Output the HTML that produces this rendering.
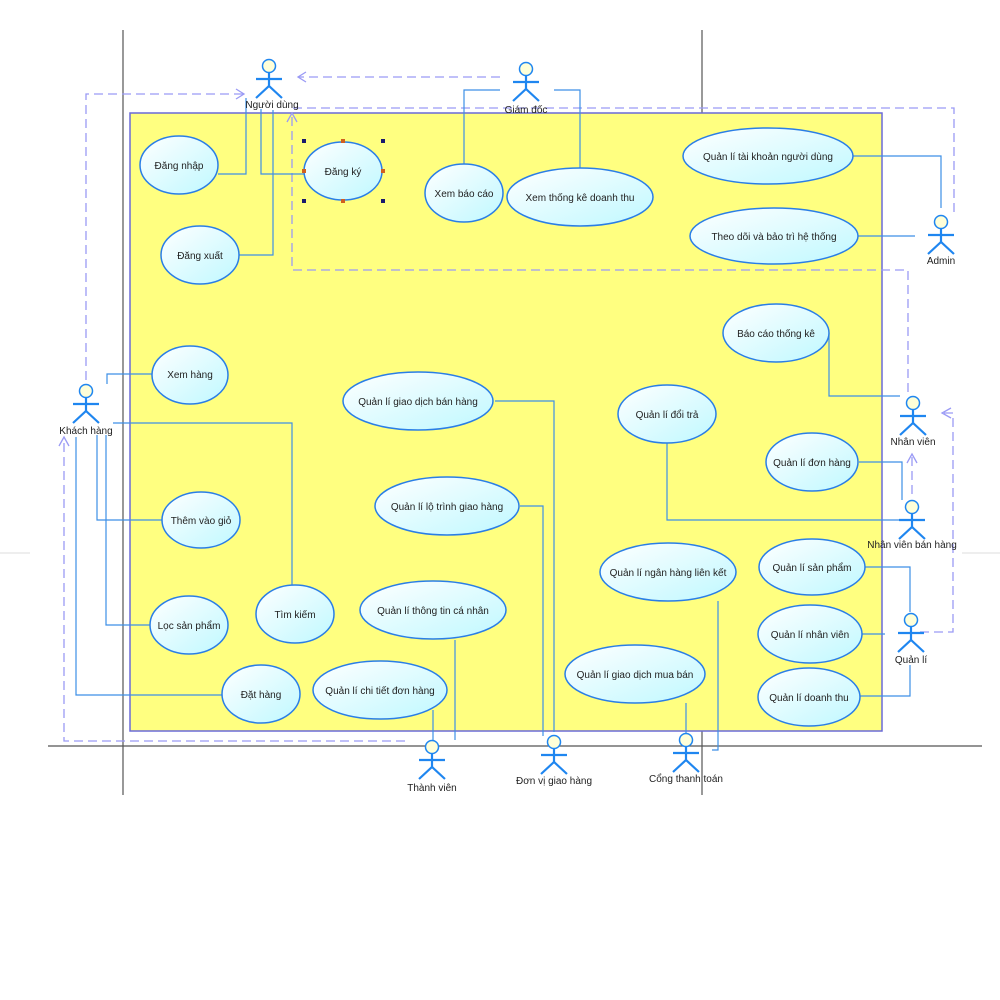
<!DOCTYPE html>
<html><head><meta charset="utf-8"><style>
html,body{margin:0;padding:0;background:#fff;}
svg{display:block;font-family:"Liberation Sans","DejaVu Sans",sans-serif;}
</style></head><body>
<svg width="1000" height="1000" viewBox="0 0 1000 1000" xmlns="http://www.w3.org/2000/svg">
<defs>
<linearGradient id="g" x1="0" y1="0" x2="1" y2="1">
<stop offset="0" stop-color="#ffffff"/><stop offset="1" stop-color="#bff8ff"/>
</linearGradient>
</defs>
<!-- gray lines -->
<g stroke="#555" stroke-width="1.2">
<line x1="123" y1="30" x2="123" y2="795"/>
<line x1="702" y1="30" x2="702" y2="113"/>
<line x1="702" y1="731" x2="702" y2="795"/>
<line x1="48" y1="746" x2="982" y2="746"/>
</g>
<line x1="0" y1="553" x2="30" y2="553" stroke="#ddd"/>
<line x1="962" y1="553" x2="1000" y2="553" stroke="#ddd"/>
<!-- boundary -->
<rect x="130" y="113" width="752" height="618" fill="#ffff80" stroke="#6a6ad8" stroke-width="1.5"/>

<!-- dashed generalizations -->
<g stroke="#9a9af5" stroke-width="1.3" fill="none" stroke-dasharray="9,5">
<polyline points="86,380 86,94 244,94"/>
<polyline points="405,741 64,741 64,438"/>
<polyline points="500,77 298,77"/>
<polyline points="954,212 954,108 292,108"/>
<polyline points="908,392 908,270 292,270 292,114"/>
<polyline points="912,494 912,455"/>
<polyline points="920,632 953,632 953,413 943,413"/>
</g>
<g stroke="#9a9af5" stroke-width="1.3" fill="none">
<polyline points="236,89 244,94 236,99"/>
<polyline points="59,446 64,437 69,446"/>
<polyline points="306,72 298,77 306,82"/>
<polyline points="287,122 292,113 297,122"/>
<polyline points="907,463 912,454 917,463"/>
<polyline points="951,408 942,413 951,418"/>
</g>

<!-- solid associations -->
<g stroke="#3d8fe6" stroke-width="1.2" fill="none">
<polyline points="246,98 246,174 218,174"/>
<polyline points="261,109 261,174 304,174"/>
<polyline points="273,110 273,255 239,255"/>
<polyline points="500,90 464,90 464,165"/>
<polyline points="554,90 580,90 580,168"/>
<polyline points="853,156 941,156 941,208"/>
<polyline points="858,236 915,236"/>
<polyline points="829,333 829,396 900,396"/>
<polyline points="107,384 107,374 152,374"/>
<polyline points="113,423 292,423 292,586"/>
<polyline points="97,435 97,520 162,520"/>
<polyline points="106,435 106,625 150,625"/>
<polyline points="76,437 76,695 222,695"/>
<polyline points="495,401 554,401 554,732"/>
<polyline points="520,506 543,506 543,736"/>
<polyline points="455,640 455,740"/>
<polyline points="433,710 433,740"/>
<polyline points="667,443 667,520 900,520"/>
<polyline points="859,462 902,462 902,500"/>
<polyline points="718,601 718,750 712,750"/>
<polyline points="686,703 686,733"/>
<polyline points="863,567 910,567 910,612"/>
<polyline points="862,634 885,634"/>
<polyline points="860,696 910,696 910,665"/>
</g>

<!-- use cases -->
<g stroke="#2a7ee6" stroke-width="1.5" fill="url(#g)">
<ellipse cx="179" cy="165" rx="39" ry="29"/>
<ellipse cx="343" cy="171" rx="39" ry="29"/>
<ellipse cx="200" cy="255" rx="39" ry="29"/>
<ellipse cx="464" cy="193" rx="39" ry="29"/>
<ellipse cx="580" cy="197" rx="73" ry="29"/>
<ellipse cx="768" cy="156" rx="85" ry="28"/>
<ellipse cx="774" cy="236" rx="84" ry="28"/>
<ellipse cx="776" cy="333" rx="53" ry="29"/>
<ellipse cx="190" cy="375" rx="38" ry="29"/>
<ellipse cx="418" cy="401" rx="75" ry="29"/>
<ellipse cx="667" cy="414" rx="49" ry="29"/>
<ellipse cx="812" cy="462" rx="46" ry="29"/>
<ellipse cx="447" cy="506" rx="72" ry="29"/>
<ellipse cx="201" cy="520" rx="39" ry="28"/>
<ellipse cx="668" cy="572" rx="68" ry="29"/>
<ellipse cx="812" cy="567" rx="53" ry="28"/>
<ellipse cx="189" cy="625" rx="39" ry="29"/>
<ellipse cx="295" cy="614" rx="39" ry="29"/>
<ellipse cx="433" cy="610" rx="73" ry="29"/>
<ellipse cx="810" cy="634" rx="52" ry="29"/>
<ellipse cx="635" cy="674" rx="70" ry="29"/>
<ellipse cx="380" cy="690" rx="67" ry="29"/>
<ellipse cx="261" cy="694" rx="39" ry="29"/>
<ellipse cx="809" cy="697" rx="51" ry="29"/>
</g>
<g font-size="10" fill="#222" text-anchor="middle">
<text x="179" y="169">Đăng nhập</text>
<text x="343" y="175">Đăng ký</text>
<text x="200" y="259">Đăng xuất</text>
<text x="464" y="197">Xem báo cáo</text>
<text x="580" y="201">Xem thống kê doanh thu</text>
<text x="768" y="160">Quản lí tài khoản người dùng</text>
<text x="774" y="240">Theo dõi và bảo trì hệ thống</text>
<text x="776" y="337">Báo cáo thống kê</text>
<text x="190" y="378">Xem hàng</text>
<text x="418" y="405">Quản lí giao dịch bán hàng</text>
<text x="667" y="418">Quản lí đổi trả</text>
<text x="812" y="466">Quản lí đơn hàng</text>
<text x="447" y="510">Quản lí lộ trình giao hàng</text>
<text x="201" y="524">Thêm vào giỏ</text>
<text x="668" y="576">Quản lí ngân hàng liên kết</text>
<text x="812" y="571">Quản lí sản phẩm</text>
<text x="189" y="629">Lọc sản phẩm</text>
<text x="295" y="618">Tìm kiếm</text>
<text x="433" y="614">Quản lí thông tin cá nhân</text>
<text x="810" y="638">Quản lí nhân viên</text>
<text x="635" y="678">Quản lí giao dịch mua bán</text>
<text x="380" y="694">Quản lí chi tiết đơn hàng</text>
<text x="261" y="698">Đặt hàng</text>
<text x="809" y="701">Quản lí doanh thu</text>
</g>

<!-- selection handles -->
<g fill="#1a1a6e">
<rect x="302" y="139" width="4" height="4"/><rect x="381" y="139" width="4" height="4"/>
<rect x="302" y="199" width="4" height="4"/><rect x="381" y="199" width="4" height="4"/>
</g>
<g fill="#d06020">
<rect x="341" y="139" width="4" height="4"/><rect x="341" y="199" width="4" height="4"/>
<rect x="302" y="169" width="4" height="4"/><rect x="381" y="169" width="4" height="4"/>
</g>

<!-- actors -->
<defs>
<g id="act">
<circle cx="0" cy="0" r="6.5" fill="#ffffd8" stroke="#1f86f0" stroke-width="1.5"/>
<g stroke="#1f86f0" stroke-width="2.2" fill="none">
<line x1="0" y1="6.5" x2="0" y2="20"/>
<line x1="-13" y1="13" x2="13" y2="13"/>
<polyline points="-13,32 0,20 13,32"/>
</g>
</g>
</defs>
<use href="#act" x="269" y="66"/>
<use href="#act" x="526" y="69"/>
<use href="#act" x="941" y="222"/>
<use href="#act" x="86" y="391"/>
<use href="#act" x="913" y="403"/>
<use href="#act" x="912" y="507"/>
<use href="#act" x="911" y="620"/>
<use href="#act" x="432" y="747"/>
<use href="#act" x="554" y="742"/>
<use href="#act" x="686" y="740"/>
<g font-size="10" fill="#222" text-anchor="middle">
<text x="272" y="108">Người dùng</text>
<text x="526" y="113">Giám đốc</text>
<text x="941" y="264">Admin</text>
<text x="86" y="434">Khách hàng</text>
<text x="913" y="445">Nhân viên</text>
<text x="912" y="548">Nhân viên bán hàng</text>
<text x="911" y="663">Quản lí</text>
<text x="432" y="791">Thành viên</text>
<text x="554" y="784">Đơn vị giao hàng</text>
<text x="686" y="782">Cổng thanh toán</text>
</g>
</svg>
</body></html>
